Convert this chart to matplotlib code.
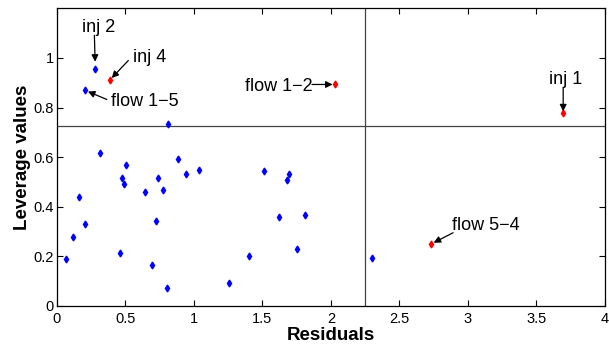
#!/usr/bin/env python3

import matplotlib
matplotlib.use('Agg')
import matplotlib.pyplot as plt

# normal measurements (blue)
blue_res = [0.068, 0.117, 0.165, 0.204, 0.318, 0.464, 0.474, 0.491, 0.505, 0.642,
            0.695, 0.722, 0.741, 0.773, 0.807, 0.887, 0.943, 1.040, 1.257, 1.405,
            1.514, 1.621, 1.682, 1.694, 1.750, 1.811, 0.282, 0.209, 0.809, 2.300]
blue_lev = [0.189, 0.280, 0.438, 0.331, 0.617, 0.214, 0.516, 0.492, 0.568, 0.461,
            0.166, 0.341, 0.517, 0.466, 0.071, 0.591, 0.531, 0.547, 0.094, 0.203,
            0.543, 0.360, 0.508, 0.531, 0.230, 0.366, 0.954, 0.869, 0.734, 0.194]

# bad data (red)
red_res = [0.391, 2.028, 3.695, 2.732]
red_lev = [0.913, 0.893, 0.779, 0.250]

# labelled points
labels = ['inj 2', 'inj 4', 'flow 1\u22125', 'flow 1\u22122', 'inj 1', 'flow 5\u22124']
label_res = [0.282, 0.391, 0.209, 2.028, 3.695, 2.732]
label_lev = [0.954, 0.913, 0.869, 0.893, 0.779, 0.250]

res_threshold = 2.25
lev_threshold = 0.727

# text offset (pt, baseline), alignment, arrow tail offset (pt), arrow tip gap
LABEL_STYLE = [
    {'text': (2, 27), 'ha': 'center', 'tail': (-0.7, 24.5), 'gap': 5.5},
    {'text': (16, 12.7), 'ha': 'left', 'tail': (13, 13.7), 'gap': 1.5},
    {'text': (18.5, -11.3), 'ha': 'left', 'tail': (15.4, -6.5), 'gap': 2},
    {'text': (-15.8, -4.8), 'ha': 'right', 'tail': (-16.3, 0), 'gap': 1.5},
    {'text': (1.8, 21), 'ha': 'center', 'tail': (0, 18), 'gap': 1},
    {'text': (15.1, 10.1), 'ha': 'left', 'tail': (15.8, 8.1), 'gap': 2},
]

plt.rcParams['font.family'] = ['Liberation Sans', 'DejaVu Sans']

fig = plt.figure(figsize=(6.09, 3.48), dpi=100)
ax = fig.add_axes([0.0931, 0.1207, 0.9003, 0.8554])

ax.axhline(lev_threshold, color='#444444', lw=0.9, zorder=1)
ax.axvline(res_threshold, color='#444444', lw=0.9, zorder=1)

ax.plot(blue_res, blue_lev, 'd', color='#0000ff', ms=3.5, mec='#0000ff', zorder=3)
ax.plot(red_res, red_lev, 'd', color='#ff0000', ms=3.5, mec='#ff0000', zorder=3)

for name, x, y, st in zip(labels, label_res, label_lev, LABEL_STYLE):
    ax.annotate(name, xy=(x, y), xytext=st['text'], textcoords='offset points',
                ha=st['ha'], va='baseline', fontsize=13)
    ax.annotate('', xy=(x, y), xytext=st['tail'], textcoords='offset points',
                arrowprops=dict(arrowstyle='-|>', color='black', lw=0.9,
                                mutation_scale=10, shrinkA=0, shrinkB=st['gap']))

ax.set_xlim(0, 4)
ax.set_ylim(0, 1.2)
ax.set_xticks([0, 0.5, 1, 1.5, 2, 2.5, 3, 3.5, 4])
ax.set_xticklabels(['0', '0.5', '1', '1.5', '2', '2.5', '3', '3.5', '4'])
ax.set_yticks([0, 0.2, 0.4, 0.6, 0.8, 1])
ax.set_yticklabels(['0', '0.2', '0.4', '0.6', '0.8', '1'])
ax.tick_params(direction='in', top=True, right=True, labelsize=10.5, length=4, width=0.8)
ax.tick_params(axis='x', pad=4)
ax.tick_params(axis='y', pad=2)
for s in ax.spines.values():
    s.set_linewidth(0.9)

ax.set_xlabel('Residuals', fontsize=13.5, fontweight='bold', labelpad=1)
ax.set_ylabel('Leverage values', fontsize=13.5, fontweight='bold', labelpad=2)

fig.savefig('out.png', dpi=100)
